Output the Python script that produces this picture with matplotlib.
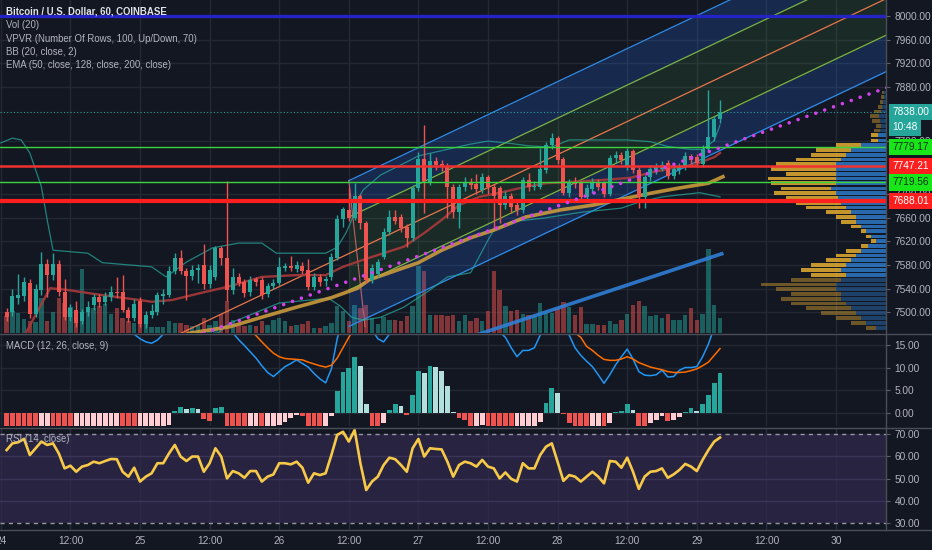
import numpy as np
import matplotlib
matplotlib.use('Agg')
import matplotlib.pyplot as plt
from matplotlib.transforms import blended_transform_factory as btf

plt.rcParams['font.family'] = ['Liberation Sans', 'DejaVu Sans']

# ------------------------------------------------------------------ data
hours = list(range(1, 125))  # hours after 24 00:00
opens = [7500,7500,7525,7528,7550,7497,7538,7582,7563,7582,
 7535,7492,7504,7485,7500,7512,7526,7518,7526,7535,
 7535,7504,7490,7520,7480,7495,7500,7528,7530,7570,
 7592,7570,7562,7572,7580,7548,7560,7609,7592,7538,
 7560,7551,7535,7556,7555,7532,7545,7550,7575,7578,
 7573,7578,7572,7543,7560,7553,7560,7592,7658,7672,
 7660,7696,7651,7555,7565,7594,7636,7661,7661,7644,
 7626,7710,7759,7720,7755,7750,7747,7711,7669,7712,
 7720,7716,7707,7728,7712,7710,7681,7697,7681,7672,
 7723,7712,7712,7740,7782,7794,7759,7701,7718,7718,
 7695,7708,7720,7718,7700,7760,7765,7745,7772,7740,
 7695,7728,7740,7742,7752,7730,7740,7745,7764,7763,
 7750,7776,7796,7826]
closes = [7492,7528,7530,7552,7497,7540,7582,7563,7582,7535,
 7492,7508,7482,7500,7510,7526,7518,7528,7535,7533,
 7504,7490,7515,7480,7495,7502,7530,7532,7570,7592,
 7570,7562,7572,7575,7548,7572,7609,7592,7538,7560,
 7550,7533,7555,7552,7530,7545,7550,7577,7578,7575,
 7580,7570,7543,7560,7552,7556,7594,7658,7674,7660,
 7696,7651,7555,7575,7585,7636,7661,7655,7643,7626,
 7710,7759,7722,7755,7748,7745,7711,7669,7711,7720,
 7715,7708,7728,7712,7697,7681,7697,7678,7672,7723,
 7712,7714,7742,7782,7794,7757,7701,7718,7716,7695,
 7710,7720,7712,7700,7760,7765,7758,7772,7740,7695,
 7728,7742,7745,7748,7730,7742,7746,7764,7758,7752,
 7776,7796,7826,7838]
highs = [7508,7540,7565,7560,7556,7548,7602,7590,7600,7588,
 7556,7515,7520,7506,7520,7532,7532,7535,7545,7560,
 7563,7510,7522,7526,7502,7515,7535,7540,7578,7600,
 7605,7575,7580,7582,7615,7580,7612,7612,7722,7575,
 7566,7556,7562,7560,7560,7550,7556,7594,7584,7595,
 7586,7585,7590,7566,7565,7562,7600,7665,7678,7711,
 7718,7700,7655,7582,7590,7642,7673,7673,7666,7650,
 7715,7770,7816,7769,7762,7758,7752,7716,7716,7728,
 7726,7733,7735,7732,7716,7714,7705,7702,7690,7728,
 7735,7722,7777,7788,7803,7798,7762,7725,7728,7722,
 7716,7726,7725,7722,7765,7772,7770,7778,7776,7745,
 7732,7748,7752,7756,7758,7748,7752,7770,7768,7768,
 7782,7875,7832,7858]
lows = [7485,7494,7515,7520,7490,7492,7530,7526,7555,7528,
 7488,7486,7476,7480,7494,7505,7510,7512,7520,7525,
 7500,7484,7486,7476,7474,7490,7495,7515,7526,7565,
 7565,7521,7555,7550,7540,7542,7555,7580,7520,7532,
 7545,7526,7528,7545,7522,7526,7540,7546,7570,7570,
 7568,7565,7538,7538,7545,7545,7555,7588,7645,7655,
 7656,7640,7550,7550,7560,7590,7630,7650,7636,7611,
 7620,7705,7668,7715,7740,7738,7660,7660,7642,7705,
 7708,7700,7702,7700,7643,7651,7675,7668,7665,7668,
 7705,7706,7708,7735,7776,7750,7698,7695,7710,7690,
 7690,7702,7706,7695,7696,7752,7750,7740,7735,7676,
 7676,7722,7734,7738,7725,7725,7734,7740,7750,7746,
 7745,7770,7790,7820]
volume = [170,220,200,140,120,110,350,120,210,350,
 300,260,100,640,210,250,270,290,190,250,
 150,120,100,280,120,60,60,60,120,100,
 100,80,70,80,150,80,120,190,320,130,
 80,70,80,70,120,80,130,150,120,70,
 80,90,120,50,50,70,100,270,220,120,
 280,250,280,150,90,160,130,130,120,170,
 270,670,620,180,180,180,170,180,120,180,
 120,150,120,220,620,430,270,220,230,190,
 180,180,300,200,200,250,310,260,180,260,
 90,90,80,80,120,90,130,190,280,320,
 270,170,180,150,190,130,130,180,250,130,
 190,840,280,150]

macd_hist = [-3.0,-4.0,-4.8,-5.5,-6.2,-7.0,-6.6,-6.2,-6.5,-6.9,
 -7.4,-7.9,-7.6,-7.2,-6.8,-6.4,-6.0,-5.6,-5.2,-4.9,
 -5.2,-5.6,-5.9,-5.5,-5.0,-4.5,-3.9,-3.3,-2.7,0.5,
 1.3,0.8,1.0,0.9,-1.3,-1.7,1.0,1.4,-3.0,-3.8,
 -4.4,-4.9,-4.6,-4.3,-4.6,-4.2,-3.6,-2.6,-1.9,-1.1,
 -0.4,-0.6,-3.0,-3.6,-4.0,-3.2,-0.75,4.9,9.0,9.9,
 12.4,10.4,1.9,-3.2,-3.8,-2.3,0.75,2.0,1.5,-0.4,
 4.1,9.4,8.9,10.5,10.3,9.4,5.9,0.15,-1.1,-1.5,
 -3.2,-2.8,-2.7,-3.2,-3.8,-4.3,-4.8,-5.2,-4.9,-4.5,
 -4.0,-3.2,-2.0,2.3,5.5,4.5,-0.3,-2.3,-3.0,-3.5,
 -3.9,-3.6,-3.3,-3.6,-2.3,0.2,0.4,2.1,0.75,-3.0,
 -3.4,-2.3,-1.65,-0.75,-1.7,-1.5,-1.0,0.2,1.0,0.4,
 1.9,3.9,6.6,8.9]
macd_line = [30,29,28,27,25.5,24.5,24,23.5,23,22,
 20.5,20,19.2,19,18.8,18.7,18.5,18.4,18.4,18.3,
 17.9,17.6,17.5,16.5,15.8,15.5,16.2,17.5,19,21,
 21,21,21.5,21.5,20.5,20.5,22,22,19.5,17.8,
 16.3,15.0,13.6,12.2,10.5,9.0,8.1,9.2,10.3,11.0,
 11.8,11.0,10.2,8.8,7.6,6.7,9.8,16.5,21,24,
 27,27,22,18.5,16.5,15.8,17.5,19,19.5,18.5,
 22,27,28,30,30,29.5,27,24,22.5,21.5,
 20.5,20,20,19.5,18.5,18,16.8,14.5,12.5,13.9,
 13.9,14.5,17.3,21,24,23.5,20,17.3,14.5,12.8,
 11.5,10.3,8.5,6.6,8.5,10.7,12.5,14.2,12.0,9.2,
 8.4,8.3,8.5,9.5,8.0,8.1,9.5,10.1,10.1,10.3,
 12.5,15.3,19,23]
signal_line = [33,33,32.8,32.5,31.7,31.5,30.6,29.7,29.5,28.9,
 28,27.9,26.8,26.2,25.6,25.1,24.5,24,23.6,23.2,
 23.1,23.2,23.4,22,20.8,20,20.1,20.8,21.7,20.5,
 19.7,20.2,20.5,20.6,21.8,22.2,21,20.6,22.5,21.6,
 20.7,19.9,18.3,17.2,15.8,14.5,13.3,12.5,12.1,12.0,
 11.9,11.8,11.3,10.9,10.5,10.2,10.6,12.2,14.5,16.8,
 19,21,21.5,21.5,20.8,19.5,18.5,18,18,18.5,
 18.5,19.5,20.5,21.5,22.5,23.5,23.5,23.5,23.3,23,
 23.5,22.8,22.7,22.7,22.3,22.3,21.6,20,18.5,18.4,
 17.9,17.7,19.3,18.7,18.5,19,19.8,19.5,17.8,16.8,
 14.8,13.9,12.8,11.9,11.7,11.7,12.0,12.5,12.0,11.2,
 10.7,10.2,9.9,9.6,9.2,9.0,9.0,9.1,9.4,9.8,
 10.5,11.3,12.8,14.3]
rsi = [62.8,65.8,66.3,67.8,60.6,63.6,66.6,65.1,65.8,61.3,
 54.6,55.8,53.1,55.4,56.1,57.6,56.9,57.9,58.8,58.7,
 53.1,50.9,54.9,48.7,50.9,52.4,56.9,56.9,61.3,65.1,
 59.9,57.9,59.9,59.9,53.1,56.9,63.6,59.9,50.1,53.4,
 52.4,50.4,53.4,53.4,48.7,50.9,51.9,56.9,56.9,56.4,
 57.6,54.9,48.2,52.4,51.6,52.4,60.6,69.6,71.0,66.6,
 71.8,56.9,44.9,48.7,50.9,56.1,59.4,58.7,56.1,53.1,
 63.6,67.8,59.9,63.6,63.3,63.1,57.6,50.9,56.1,57.6,
 56.9,55.4,58.4,55.4,54.6,50.1,52.8,49.9,48.7,56.9,
 54.6,54.6,60.6,64.3,65.8,57.5,49.0,51.6,50.9,48.7,
 50.9,53.1,50.9,47.9,57.9,57.6,54.9,59.4,53.1,45.4,
 50.9,53.1,53.4,54.6,50.4,51.9,53.9,56.6,55.4,53.4,
 58.4,62.8,66.6,68.4]

# Bollinger bands / EMA read as (hour, price) knots
bbu_t = [0,2,3.5,5,7,8,9,15,17.5,26,28.5,32,36.5,41,45,47.5,56,58,59.5,60.5,
         61.5,62.5,65.5,69,72,76.5,81,84,88,91,95,98,103,108,112,115,119,121,123,124]
bbu_p = [7786,7794,7791,7769,7712,7656,7605,7600,7584,7577,7560,7585,7609,7617,7617,7600,7600,7610,7634,7656,
         7690,7707,7732,7749,7764,7774,7784,7789,7785,7781,7779,7791,7791,7791,7788,7780,7775,7775,7790,7816]
bbl_t = [37,39.5,48,56.5,58.5,60.5,62.5,65.5,69.5,74,77,81,84,85,88,93.5,100,107,110,114,120.5,124]
bbl_p = [7462,7482,7516,7524,7511,7492,7487,7492,7509,7538,7560,7567,7622,7639,7653,7659,7669,7676,7686,7695,7702,7695]
bbb_t = [4,5.5,8.5,11.5,17,20,24,26,29.5,34.5,39,45,51,56,59,62.5,66,69.5,73,76,
         79,82.5,86.5,90.5,94,98,103,108.5,112.5,116,119.5,123,124]
bbb_p = [7460,7487,7541,7538,7530,7526,7521,7518,7521,7533,7543,7560,7563,7563,7577,7589,7600,7611,7634,7656,
         7681,7695,7703,7712,7718,7720,7723,7727,7737,7744,7749,7762,7769]
ema_t = [30,32.5,39.5,45,51,57,61.5,63.5,67,72,76,81,85,90.5,96.5,102,108,112.5,117,122,124.5]
ema_p = [7455,7465,7476,7492,7509,7525,7541,7555,7567,7584,7605,7626,7639,7661,7673,7681,7693,7702,7710,7718,7729]

# drawings
chan_t = [31.0, 60.0, 160.0]
chan_mid = [7464.7, 7599.3, 8063.3]
chan_offsets = [123.0, 61.5, 0.0, -61.5, -123.0]
edge_t = [60.0, 62.8]
edge_p = [7722.3, 7476.0]
dots_t = [35.0, 153.0]
dots_p = [7465.0, 7880.0]
blue_t = [82.0, 124.3]
blue_p = [7462.0, 7599.0]
levels = [(8000.00, '#2424c4', 2.4), (7779.17, '#3cd43c', 1.0), (7747.21, '#f23030', 1.8),
          (7719.56, '#3cd43c', 1.0), (7688.01, '#ff1f1f', 3.0)]
last_price = 7838.00

# volume profile
vp_price = [7474,7482,7491,7499,7507,7515,7523,7531,7539,7547,7555,7563,7572,7580,7588,7596,7604,7612,7620,7628,
            7637,7645,7653,7661,7669,7677,7685,7693,7701,7709,7718,7726,7734,7742,7750,7758,7766,7774,7782,7790,
            7799,7807,7815,7823,7831,7839,7847,7855,7863,7871]
vp_up = [100,200,250,300,350,400,450,450,500,500,450,400,450,400,350,300,250,180,100,150,
         200,250,300,300,350,400,450,480,500,550,500,500,500,500,500,450,400,350,250,80,
         80,60,50,60,70,50,40,30,20,20]
vp_dn = [100,150,250,350,450,550,600,500,600,750,500,350,400,350,250,200,150,70,50,50,
         50,100,150,200,250,400,450,520,620,500,650,680,500,650,600,450,350,350,250,70,
         70,60,50,80,90,70,40,30,30,20]
va_low, va_high = 7560, 7800

price_ticks = [8000, 7960, 7920, 7880, 7790, 7700, 7660, 7620, 7580, 7540, 7500]
macd_ticks = [15, 10, 5, 0]
rsi_ticks = [70, 60, 50, 40, 30]
time_ticks = [0, 12, 24, 36, 48, 60, 72, 84, 96, 108, 120, 132, 144]
time_labels = ['24', '12:00', '25', '12:00', '26', '12:00', '27', '12:00', '28', '12:00', '29', '12:00', '30']
legend_lines = ['Bitcoin / U.S. Dollar, 60, COINBASE', 'Vol (20)',
                'VPVR (Number Of Rows, 100, Up/Down, 70)', 'BB (20, close, 2)',
                'EMA (50, close, 128, close, 200, close)']

# ------------------------------------------------------------------ style
W, H = 932, 550
BG = '#131722'
GRID = '#242833'
TXT = '#b2b5be'
UP = '#26a69a'
DN = '#ef5350'
FS = 7.3

fig = plt.figure(figsize=(W / 100, H / 100), dpi=100, facecolor=BG)


def rect(x0, y0, x1, y1):
    return [x0 / W, 1 - y1 / H, (x1 - x0) / W, (y1 - y0) / H]


T0, T1 = -0.14, 152.62
P0, P1 = 7465.4, 8027.0

ax_vol = fig.add_axes(rect(0, 0, 886, 333))
ax_vp = fig.add_axes(rect(0, 0, 886, 333))
ax = fig.add_axes(rect(0, 0, 886, 333))
ax_m = fig.add_axes(rect(0, 335, 886, 426))
ax_r = fig.add_axes(rect(0, 429, 886, 530))

for a in (ax_vol, ax_vp, ax, ax_m, ax_r):
    for s in a.spines.values():
        s.set_visible(False)
ax_vol.set_facecolor(BG)
ax_vp.set_facecolor('none')
ax.set_facecolor('none')
ax_m.set_facecolor(BG)
ax_r.set_facecolor(BG)

# ---- volume (bottom layer) + grid
ax_vol.set_xlim(T0, T1)
ax_vol.set_ylim(0, 3330)
ax_vol.set_xticks([])
ax_vol.set_yticks([])
for t in time_ticks:
    ax_vol.axvline(t, color=GRID, lw=1, zorder=0)
tr_grid = btf(ax_vol.transAxes, ax.transData)
for p in price_ticks:
    ax_vol.plot([0, 1], [p, p], color=GRID, lw=1, transform=tr_grid, zorder=0)
cols = [UP if c >= o else DN for o, c in zip(opens, closes)]
ax_vol.bar(hours, volume, width=0.78, color=cols, alpha=0.5, zorder=1)

# ---- volume profile
ax_vp.set_xlim(8860, 0)
ax_vp.set_ylim(P0, P1)
ax_vp.set_xticks([])
ax_vp.set_yticks([])
for p, u, d in zip(vp_price, vp_up, vp_dn):
    inside = va_low <= p <= va_high
    ax_vp.barh(p, u, height=6.3, left=0, color='#2f86dc', alpha=0.75 if inside else 0.38, lw=0)
    ax_vp.barh(p, d, height=6.3, left=u, color='#f2b531', alpha=0.8 if inside else 0.4, lw=0)

# ---- price axes
ax.set_xlim(T0, T1)
ax.set_ylim(P0, P1)
ax.set_xticks([])

# channel
tt = np.array(chan_t[1:])
mid = np.array(chan_mid[1:])
fills = [('#2979ff', 0.2), ('#4caf50', 0.13), ('#4caf50', 0.13), ('#2979ff', 0.2)]
for k in range(4):
    ax.fill_between(tt, mid + chan_offsets[k], mid + chan_offsets[k + 1],
                    color=fills[k][0], alpha=fills[k][1], lw=0, zorder=1)
line_cols = ['#2f8be8', '#7cb342', '#e8764a', '#7cb342', '#2f8be8']
for k, off in enumerate(chan_offsets):
    if off == 0:
        ax.plot(chan_t, np.array(chan_mid) + off, color=line_cols[k], lw=0.9, zorder=1.5)
    else:
        ax.plot(tt, mid + off, color=line_cols[k], lw=0.9, zorder=1.5)
ax.plot(edge_t, edge_p, color='#e57373', lw=0.8, alpha=0.8, zorder=1.5)

# indicators
ax.plot(bbu_t, bbu_p, color='#26a69a', lw=0.9, alpha=0.75, zorder=2)
ax.plot(bbl_t, bbl_p, color='#26a69a', lw=0.9, alpha=0.75, zorder=2)
ax.plot(bbb_t, bbb_p, color='#a83a3a', lw=1.7, alpha=0.9, zorder=2)
ax.plot(ema_t, ema_p, color='#c99a3c', lw=2.6, alpha=0.9, zorder=2)
ax.plot(blue_t, blue_p, color='#2f7fd6', lw=2.6, alpha=0.9, zorder=2)

# candles
ax.vlines(hours, lows, highs, colors=cols, lw=1, zorder=3)
bottoms = [min(o, c) for o, c in zip(opens, closes)]
heights = [max(abs(c - o), 1.5) for o, c in zip(opens, closes)]
ax.bar(hours, heights, bottom=bottoms, width=0.66, color=cols, lw=0, zorder=3.1)

# horizontal levels
for p, c, lw in levels:
    ax.axhline(p, color=c, lw=lw, zorder=4)
ax.axhline(last_price, color='#26a69a', lw=0.8, ls=(0, (1, 2)), zorder=4)
ax.plot(dots_t, dots_p, color='#d142e8', lw=2.6, ls=(0, (0.01, 2.6)),
        dash_capstyle='round', zorder=5)

# price axis
ax.yaxis.tick_right()
ax.set_yticks(price_ticks)
ax.set_yticklabels(['%.2f' % p for p in price_ticks])
ax.tick_params(axis='y', colors=TXT, labelsize=FS, length=3, width=0.8, pad=3)
ax.tick_params(axis='y', color='#5d606b')

tr_lab = btf(ax.transAxes, ax.transData)


def box(y, text, fc, tc, dy=0):
    ax.annotate(text, xy=(1.0075, y), xycoords=tr_lab, xytext=(0, dy), textcoords='offset points',
                ha='left', va='center', fontsize=FS, color=tc, annotation_clip=False,
                bbox=dict(boxstyle='square,pad=0.32', fc=fc, ec='none'), zorder=20)


box(last_price, '%.2f' % last_price, '#26a69a', 'white')
box(last_price, '10:48', '#26a69a', 'white', dy=-11)
box(levels[1][0], '%.2f' % levels[1][0], '#19e619', '#10301a')
box(levels[2][0], '%.2f' % levels[2][0], '#ff1f1f', 'white')
box(levels[3][0], '%.2f' % levels[3][0], '#19e619', '#10301a')
box(levels[4][0], '%.2f' % levels[4][0], '#ff1f1f', 'white')

# legend
for i, s in enumerate(legend_lines):
    fig.text(6 / W, 1 - (12 + 13.3 * i) / H, s, color='#e1e3ea' if i == 0 else TXT,
             fontsize=6.9 if i == 0 else 6.9, fontweight='bold' if i == 0 else 'normal',
             va='center', ha='left')

# ---- MACD
ax_m.set_xlim(T0, T1)
ax_m.set_ylim(-2.89, 17.33)
for t in time_ticks:
    ax_m.axvline(t, color=GRID, lw=1, zorder=0)
for v in macd_ticks:
    ax_m.axhline(v, color=GRID, lw=1, zorder=0)
hcols = []
for i, v in enumerate(macd_hist):
    prev = macd_hist[i - 1] if i > 0 else v + 1
    if v >= 0:
        hcols.append('#26a69a' if v > prev else '#b2dfdb')
    else:
        hcols.append('#ffcdd2' if v > prev else '#ef5350')
ax_m.bar(hours, macd_hist, width=0.85, color=hcols, lw=0, zorder=2)
ax_m.plot(hours, macd_line, color='#2196f3', lw=1.1, zorder=3)
ax_m.plot(hours, signal_line, color='#ff6d00', lw=1.1, zorder=3)
ax_m.set_xticks([])
ax_m.yaxis.tick_right()
ax_m.set_yticks(macd_ticks)
ax_m.set_yticklabels(['%.2f' % v for v in macd_ticks])
ax_m.tick_params(axis='y', colors=TXT, labelsize=FS, length=3, width=0.8, pad=3)
ax_m.tick_params(axis='y', color='#5d606b')
ax_m.text(6 / 886, 0.875, 'MACD (12, 26, close, 9)', transform=ax_m.transAxes,
          color=TXT, fontsize=6.9, va='center', ha='left')

# ---- RSI
ax_r.set_xlim(T0, T1)
ax_r.set_ylim(27.0, 72.24)
ax_r.axhspan(30, 70, color='#7e57c2', alpha=0.2, lw=0, zorder=0)
for t in time_ticks:
    ax_r.axvline(t, color='#2c2a45', lw=1, zorder=0.5)
for v in (40, 50, 60):
    ax_r.axhline(v, color='#3a3556', lw=1, zorder=0.5)
for v in (70, 30):
    ax_r.axhline(v, color='#9598a1', lw=1, ls=(0, (3, 3)), zorder=1)
ax_r.plot(hours, rsi, color='#f7c948', lw=1.9, zorder=3)
ax_r.yaxis.tick_right()
ax_r.set_yticks(rsi_ticks)
ax_r.set_yticklabels(['%.2f' % v for v in rsi_ticks])
ax_r.tick_params(axis='y', colors=TXT, labelsize=FS, length=3, width=0.8, pad=3)
ax_r.tick_params(axis='y', color='#5d606b')
ax_r.set_xticks(time_ticks)
ax_r.set_xticklabels(time_labels)
ax_r.tick_params(axis='x', colors=TXT, labelsize=FS, length=0, pad=4)
ax_r.text(6 / 886, 0.9, 'RSI (14, close)', transform=ax_r.transAxes,
          color=TXT, fontsize=6.9, va='center', ha='left', zorder=5)

# separators
SEP = '#4a4e59'
fig.add_artist(plt.Line2D([886 / W, 886 / W], [1 - 530 / H, 1], color=SEP, lw=1))
for yy in (334, 428, 530):
    fig.add_artist(plt.Line2D([0, 1], [1 - yy / H, 1 - yy / H], color=SEP, lw=1))

fig.savefig('out.png', dpi=100, facecolor=BG)
